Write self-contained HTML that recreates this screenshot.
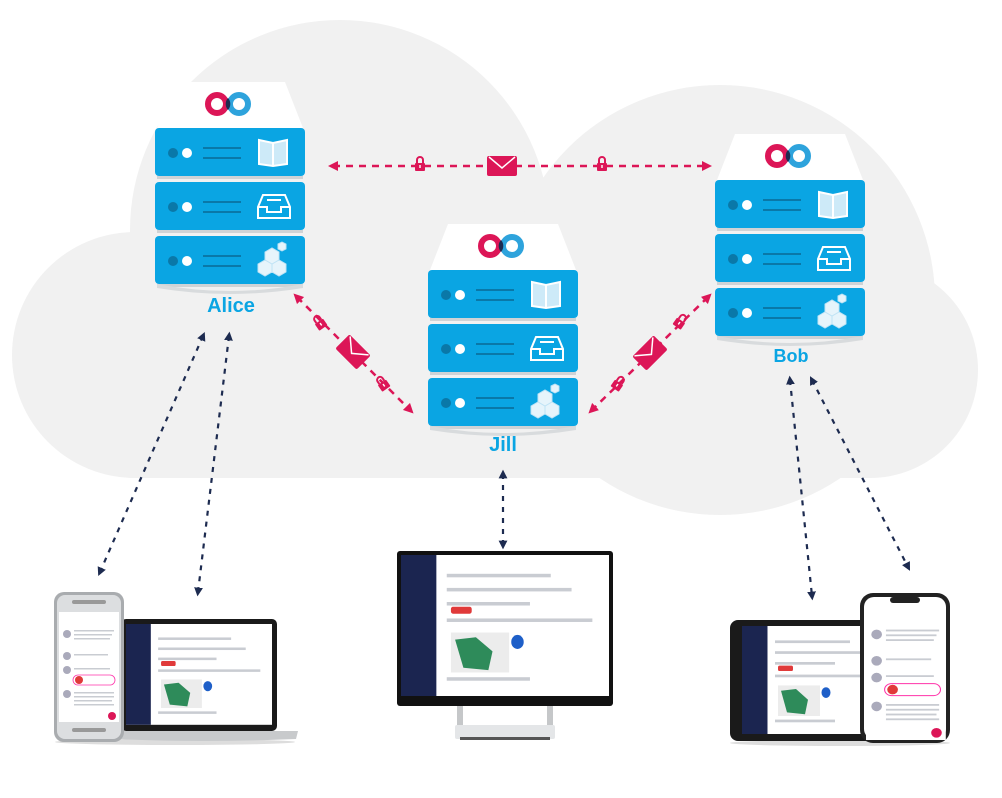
<!DOCTYPE html>
<html><head><meta charset="utf-8"><style>
html,body{margin:0;padding:0;background:#fff;width:1002px;height:798px;overflow:hidden}
svg{display:block}
text{font-family:"Liberation Sans",sans-serif;font-weight:bold;fill:#0aa5e3}
</style></head><body>
<svg width="1002" height="798" viewBox="0 0 1002 798" xmlns="http://www.w3.org/2000/svg">
<defs>
<marker id="mp" viewBox="0 0 10 10" refX="5" refY="5" markerWidth="4" markerHeight="4" orient="auto-start-reverse"><path d="M0,0L10,5L0,10z" fill="#dc1657"/></marker>
<marker id="mn" viewBox="0 0 10 10" refX="5" refY="5" markerWidth="4" markerHeight="4" orient="auto-start-reverse"><path d="M0,0L10,5L0,10z" fill="#1d2b50"/></marker>
<g id="blade">
<rect x="0" y="0" width="150" height="48" rx="4" fill="#0aa5e3"/>
<rect x="2" y="48" width="146" height="3" fill="#cfd3d6"/>
<circle cx="18" cy="25" r="5" fill="#0a78a8"/>
<circle cx="32" cy="25" r="5" fill="#fff"/>
<rect x="48" y="19" width="38" height="2" fill="#0a78a8"/>
<rect x="48" y="29" width="38" height="2" fill="#0a78a8"/>
</g>
<g id="server">
<path d="M20,-46 L130,-46 L148,0 L2,0 Z" fill="#fff"/>
<circle cx="62" cy="-24" r="9" fill="none" stroke="#dc1657" stroke-width="6"/>
<circle cx="84" cy="-24" r="9" fill="none" stroke="#2ea3dc" stroke-width="6"/>
<path d="M73,-30 a9,9 0 0 1 0,12 a9,9 0 0 1 0,-12z" fill="#1d2b50"/>
<use href="#blade" y="0"/>
<use href="#blade" y="54"/>
<use href="#blade" y="108"/>
<path d="M2,156 Q75,170 148,156 L148,160 Q75,172 2,160 Z" fill="#d8dbdd"/>
<!-- book -->
<path d="M104,12 L118,15 L132,12 L132,36 L118,38 L104,36 Z" fill="#cdeaf8" stroke="#fff" stroke-width="2"/>
<line x1="118" y1="15" x2="118" y2="38" stroke="#fff" stroke-width="2"/>
<!-- tray -->
<path d="M103,79 L108,67 L130,67 L135,79 L135,90 L103,90 Z" fill="none" stroke="#fff" stroke-width="2"/>
<path d="M103,79 L112,79 L112,84 L126,84 L126,79 L135,79" fill="none" stroke="#fff" stroke-width="2"/>
<line x1="112" y1="72" x2="126" y2="72" stroke="#fff" stroke-width="2"/>
<!-- cubes -->
<path d="M110,124 l7,-4 l7,4 l0,8 l-7,4 l-7,-4z M103,136 l7,-4 l7,4 l0,8 l-7,4 l-7,-4z M117,136 l7,-4 l7,4 l0,8 l-7,4 l-7,-4z M123,116 l4,-2 l4,2 l0,5 l-4,2 l-4,-2z" fill="#e6f4fb" stroke="#bfe3f5" stroke-width="1"/>
</g>
<g id="lock"><path d="M-3,-2 v-3 a3,3 0 0 1 6,0 v3" fill="none" stroke="#dc1657" stroke-width="2"/><rect x="-5" y="-2" width="10" height="8" rx="1" fill="#dc1657"/><rect x="-0.7" y="0" width="1.4" height="3" fill="#fff"/></g>
<g id="env"><rect x="-15" y="-10" width="30" height="20" rx="2" fill="#dc1657"/><path d="M-13,-9 L0,2 L13,-9" fill="none" stroke="#fff" stroke-width="1.5"/></g>
<g id="scr">
<rect x="0" y="0" width="100" height="60" fill="#fff"/>
<rect x="0" y="0" width="17" height="60" fill="#1b2550"/>
<g fill="#c9ccd2"><rect x="22" y="8" width="50" height="1.5"/><rect x="22" y="14" width="60" height="1.5"/><rect x="22" y="20" width="40" height="1.5"/><rect x="22" y="27" width="70" height="1.5"/><rect x="22" y="52" width="40" height="1.5"/></g>
<rect x="24" y="33" width="28" height="17" fill="#ececec"/>
<path d="M26,36 l10,-1 l8,6 l-2,8 l-12,-1z" fill="#2e8b5a"/>
<circle cx="56" cy="37" r="3" fill="#1e5fc8"/>
<rect x="24" y="22" width="10" height="3" rx="1" fill="#e03a3a"/>
</g>
<g id="phscr">
<rect x="0" y="0" width="60" height="110" fill="#fff"/>
<g fill="#aab"><circle cx="8" cy="22" r="4"/><circle cx="8" cy="44" r="4"/><circle cx="8" cy="58" r="4"/><circle cx="8" cy="82" r="4"/></g>
<g fill="#c9ccd2"><rect x="15" y="18" width="40" height="1.5"/><rect x="15" y="22" width="38" height="1.5"/><rect x="15" y="26" width="36" height="1.5"/><rect x="15" y="42" width="34" height="1.5"/><rect x="15" y="56" width="36" height="1.5"/><rect x="15" y="80" width="40" height="1.5"/><rect x="15" y="84" width="40" height="1.5"/><rect x="15" y="88" width="38" height="1.5"/><rect x="15" y="92" width="40" height="1.5"/></g>
<rect x="14" y="63" width="42" height="10" rx="5" fill="#fff" stroke="#f3a" stroke-width="0.8"/>
<circle cx="20" cy="68" r="4" fill="#e03a3a"/>
<circle cx="53" cy="104" r="4" fill="#dc1657"/>
</g>
</defs>

<!-- cloud -->
<g fill="#f1f1f1">
<circle cx="340" cy="230" r="210"/>
<circle cx="720" cy="300" r="215"/>
<circle cx="870" cy="370" r="108"/>
<circle cx="135" cy="355" r="123"/>
<rect x="130" y="250" width="740" height="228"/>
</g>

<!-- pink connectors -->
<g stroke="#dc1657" stroke-width="2.5" stroke-dasharray="7,6" fill="none">
<line x1="333" y1="166" x2="707" y2="166" marker-start="url(#mp)" marker-end="url(#mp)"/>
<line x1="297" y1="297" x2="410" y2="410" marker-start="url(#mp)" marker-end="url(#mp)"/>
<line x1="708" y1="297" x2="592" y2="410" marker-start="url(#mp)" marker-end="url(#mp)"/>
</g>
<use href="#lock" x="420" y="165"/><use href="#lock" x="602" y="165"/>
<use href="#env" transform="translate(502,166)"/>
<use href="#lock" transform="translate(320,323) rotate(-35)"/><use href="#lock" transform="translate(383,384) rotate(-35)"/>
<use href="#env" transform="translate(353,352) rotate(45)"/>
<use href="#lock" transform="translate(680,322) rotate(35)"/><use href="#lock" transform="translate(618,384) rotate(35)"/>
<use href="#env" transform="translate(650,353) rotate(-45)"/>

<!-- servers -->
<use href="#server" x="155" y="128"/>
<use href="#server" x="428" y="270"/>
<use href="#server" x="715" y="180"/>
<text x="231" y="312" font-size="20" text-anchor="middle">Alice</text>
<text x="503" y="451" font-size="20" text-anchor="middle">Jill</text>
<text x="791" y="362" font-size="18" text-anchor="middle">Bob</text>

<!-- navy connectors -->
<g stroke="#1d2b50" stroke-width="2.2" stroke-dasharray="5,6" fill="none">
<line x1="203" y1="336" x2="100" y2="572" marker-start="url(#mn)" marker-end="url(#mn)"/>
<line x1="229" y1="336" x2="198" y2="592" marker-start="url(#mn)" marker-end="url(#mn)"/>
<line x1="503" y1="474" x2="503" y2="545" marker-start="url(#mn)" marker-end="url(#mn)"/>
<line x1="790" y1="380" x2="812" y2="596" marker-start="url(#mn)" marker-end="url(#mn)"/>
<line x1="812" y1="380" x2="908" y2="567" marker-start="url(#mn)" marker-end="url(#mn)"/>
</g>

<!-- left devices -->
<ellipse cx="175" cy="742" rx="120" ry="3" fill="#ddd"/>
<rect x="121" y="619" width="156" height="112" rx="5" fill="#1a1a1a"/>
<use href="#scr" transform="translate(126,624) scale(1.46,1.68)"/>
<path d="M112,731 L298,731 L296,739 Q200,743 114,739 Z" fill="#c8cacc"/>
<rect x="54" y="592" width="70" height="150" rx="10" fill="#a9acaf"/>
<rect x="57" y="595" width="64" height="144" rx="8" fill="#dcdee0"/>
<rect x="59" y="612" width="60" height="110" fill="#fff"/>
<use href="#phscr" x="59" y="612"/>
<rect x="72" y="600" width="34" height="4" rx="2" fill="#999"/>
<rect x="72" y="728" width="34" height="4" rx="2" fill="#999"/>

<!-- monitor -->
<rect x="397" y="551" width="216" height="155" rx="3" fill="#111"/>
<use href="#scr" transform="translate(401,555) scale(2.08,2.35)"/>
<rect x="457" y="706" width="6" height="22" fill="#c5c7c9"/>
<rect x="547" y="706" width="6" height="22" fill="#c5c7c9"/>
<rect x="455" y="725" width="100" height="14" rx="2" fill="#e4e6e8"/>
<rect x="460" y="737" width="90" height="3" fill="#555"/>

<!-- right devices -->
<ellipse cx="840" cy="743" rx="110" ry="3" fill="#ddd"/>
<rect x="730" y="620" width="165" height="121" rx="8" fill="#1a1a1a"/>
<use href="#scr" transform="translate(742,626) scale(1.5,1.8)"/>
<rect x="860" y="593" width="90" height="150" rx="13" fill="#222"/>
<rect x="864" y="597" width="82" height="142" rx="10" fill="#fff"/>
<use href="#phscr" transform="translate(866,608) scale(1.33,1.2)"/>
<rect x="890" y="597" width="30" height="6" rx="3" fill="#222"/>
</svg>
</body></html>
